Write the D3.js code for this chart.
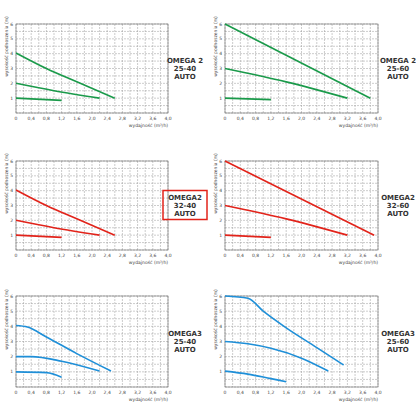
<!DOCTYPE html><html><head><script src="https://cdn.jsdelivr.net/npm/d3@7"></script>
<style>body{margin:0;background:#fff}</style></head><body><svg id="c" width="416" height="416"></svg>
<script>
const xTicks=["0","0,4","0,8","1,2","1,6","2,0","2,4","2,8","3,2","3,6","4,0"];
const yTicks=[0,1,2,3,4,5,6];
const titles=[["OMEGA 2","25-40","AUTO"],["OMEGA 2","25-60","AUTO"],["OMEGA2","32-40","AUTO"],["OMEGA2","32-60","AUTO"],["OMEGA3","25-40","AUTO"],["OMEGA3","25-60","AUTO"]];
const colors=["#1a9a4a","#1a9a4a","#e2231a","#e2231a","#1e8fd8","#1e8fd8"];
const curves25_40=[[[0,4.05],[0.8,3.0],[1.6,2.1],[2.6,1.0]],[[0,2.0],[1.0,1.5],[2.2,1.0]],[[0,1.0],[1.2,0.85]]];
const curves2560g=[[[0,6.0],[3.8,1.0]],[[0,3.0],[1.6,2.1],[3.2,1.0]],[[0,1.0],[1.2,0.9]]];
const curves3260r=[[[0,6.0],[3.9,1.0]],[[0,3.0],[1.6,2.1],[3.2,1.0]],[[0,1.0],[1.2,0.85]]];
const curvesO3_40=[[[0,4.05],[0.3,3.95],[0.8,3.3],[1.6,2.2],[2.5,1.05]],[[0,2.0],[0.4,2.0],[1.2,1.7],[2.2,1.05]],[[0,1.0],[0.8,0.95],[1.2,0.65]]];
const curvesO3_60=[[[0,6.0],[0.6,5.85],[1.0,5.0],[1.6,3.9],[2.4,2.6],[3.1,1.45]],[[0,3.0],[0.6,2.85],[1.2,2.55],[2.0,1.9],[2.7,1.05]],[[0,1.05],[0.6,0.85],[1.2,0.55],[1.6,0.35]]];
const panels=[curves25_40,curves2560g,curves25_40,curves3260r,curvesO3_40,curvesO3_60];
const svg=d3.select("#c");
const rows=[[24,113],[161,250],[296,387]], cols=[[16,168],[225,378]];
panels.forEach((cv,i)=>{
  const r=rows[Math.floor(i/2)], c=cols[i%2];
  const x=d3.scaleLinear().domain([0,4]).range(c), y=d3.scaleLinear().domain([0,6]).range([r[1],r[0]]);
  const g=svg.append("g");
  d3.range(0,4.01,0.2).forEach(v=>g.append("line").attr("x1",x(v)).attr("x2",x(v)).attr("y1",r[0]).attr("y2",r[1]).attr("stroke","#999").attr("stroke-width",0.5).attr("stroke-dasharray","2,1"));
  d3.range(0,6.01,0.5).forEach(v=>g.append("line").attr("x1",c[0]).attr("x2",c[1]).attr("y1",y(v)).attr("y2",y(v)).attr("stroke","#999").attr("stroke-width",0.5).attr("stroke-dasharray","2,1"));
  g.append("rect").attr("x",c[0]).attr("y",r[0]).attr("width",c[1]-c[0]).attr("height",r[1]-r[0]).attr("fill","none").attr("stroke","#666").attr("stroke-width",0.6);
  xTicks.forEach((t,k)=>g.append("text").attr("x",x(k*0.4)).attr("y",r[1]+7).attr("text-anchor","middle").attr("font-size",4.5).attr("font-family","DejaVu Sans").attr("fill","#444").text(t));
  yTicks.forEach(t=>{ if(t>0) g.append("text").attr("x",c[0]-3).attr("y",y(t)+1.5).attr("text-anchor","end").attr("font-size",4.5).attr("font-family","DejaVu Sans").attr("fill","#444").text(t);});
  g.append("text").attr("x",c[0]).attr("y",r[1]+7).attr("text-anchor","middle").attr("font-size",4.5).attr("fill","#444");
  g.append("text").attr("x",c[1]).attr("y",r[1]+14).attr("text-anchor","end").attr("font-size",4.5).attr("font-family","DejaVu Sans").attr("fill","#444").text("wydajność (m³/h)");
  g.append("text").attr("transform",`translate(${c[0]-8},${(r[0]+r[1])/2-22}) rotate(-90)`).attr("text-anchor","middle").attr("font-size",4.5).attr("font-family","DejaVu Sans").attr("fill","#444").text("wysokość podnoszenia (m)");
  const line=d3.line().x(d=>x(d[0])).y(d=>y(d[1])).curve(d3.curveMonotoneX);
  cv.forEach(s=>g.append("path").attr("d",line(s)).attr("fill","none").attr("stroke",colors[i]).attr("stroke-width",1.6));
  const tx=c[1]+17+(i%2?12:0)-(i%2?10:0), ty=(r[0]+r[1])/2-6;
  titles[i].forEach((t,k)=>g.append("text").attr("x",i%2?398:185).attr("y",ty+k*8).attr("text-anchor","middle").attr("font-size",7).attr("font-weight","bold").attr("font-family","DejaVu Sans").attr("fill","#333").text(t));
  if(i===2) g.append("rect").attr("x",163).attr("y",ty-9).attr("width",44).attr("height",29).attr("fill","none").attr("stroke","#e2231a").attr("stroke-width",1.5);
});
</script></body></html>
